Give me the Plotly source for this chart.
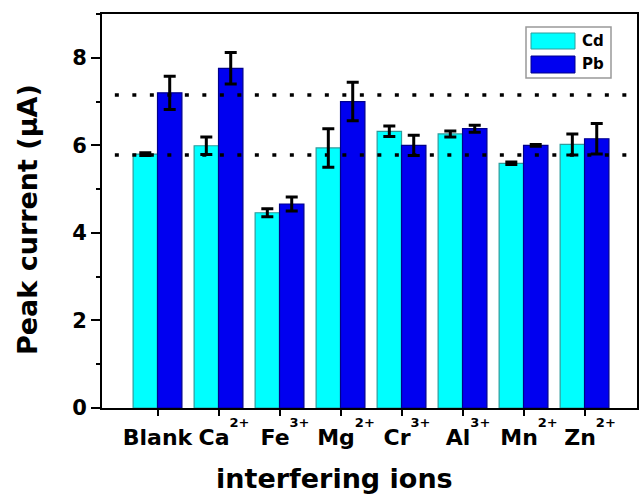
import plotly.graph_objects as go

categories = ["Blank", "Ca2+", "Fe3+", "Mg2+", "Cr3+", "Al3+", "Mn2+", "Zn2+"]
tick_bases = ["Blank", "Ca", "Fe", "Mg", "Cr", "Al", "Mn", "Zn"]
tick_charges = ["", "2+", "3+", "2+", "3+", "3+", "2+", "2+"]
cd_values = [5.80, 5.99, 4.46, 5.94, 6.32, 6.26, 5.59, 6.02]
cd_errors = [0.03, 0.20, 0.09, 0.44, 0.12, 0.07, 0.03, 0.24]
pb_values = [7.20, 7.76, 4.66, 7.00, 6.00, 6.38, 6.00, 6.15]
pb_errors = [0.38, 0.36, 0.16, 0.44, 0.23, 0.08, 0.02, 0.35]
reference_levels = [7.15, 5.78]
series_names = ["Cd", "Pb"]
y_tick_values = [0, 2, 4, 6, 8]
x_title = "interfering ions"
y_title = "Peak current (μA)"

SUP = "<span style='font-size:13px;baseline-shift:18px'>%s</span>"
tick_text = [(("\u2002" + b + SUP % c) if c else b) for b, c in zip(tick_bases, tick_charges)]

FONT = "DejaVu Sans, Arial, sans-serif"
cd_fill, cd_line = "#00FFFF", "#2E9C9C"
pb_fill, pb_line = "#0000F0", "#00008C"

fig = go.Figure()
fig.add_trace(go.Bar(
    x=categories, y=cd_values, name=series_names[0],
    marker=dict(color=cd_fill, line=dict(color=cd_line, width=1.2)),
    error_y=dict(type="data", array=cd_errors, visible=True,
                 color="black", thickness=3, width=6),
    showlegend=False,
))
fig.add_trace(go.Bar(
    x=categories, y=pb_values, name=series_names[1],
    marker=dict(color=pb_fill, line=dict(color=pb_line, width=1.2)),
    error_y=dict(type="data", array=pb_errors, visible=True,
                 color="black", thickness=3, width=6),
    showlegend=False,
))

shapes = []
for lvl in reference_levels:
    shapes.append(dict(type="line", xref="paper", yref="y", x0=0.024, x1=1.0,
                       y0=lvl, y1=lvl, layer="above",
                       line=dict(color="black", width=3.5, dash="4px,13.5px")))

# pixel -> paper helpers
pw = 639 - 102 - 2
ph = 496 - 14 - 88
def px_x(v):
    return (v - 102) / pw
def px_y(v):
    return (496 - 88 - v) / ph

# custom legend box
shapes.append(dict(type="rect", xref="paper", yref="paper",
                   x0=px_x(526), x1=px_x(611), y0=px_y(78), y1=px_y(27),
                   line=dict(color="#999999", width=1.5), fillcolor="white", layer="above"))
shapes.append(dict(type="rect", xref="paper", yref="paper",
                   x0=px_x(531), x1=px_x(575), y0=px_y(49), y1=px_y(33),
                   line=dict(color=cd_line, width=1), fillcolor=cd_fill, layer="above"))
shapes.append(dict(type="rect", xref="paper", yref="paper",
                   x0=px_x(531), x1=px_x(575), y0=px_y(73), y1=px_y(56),
                   line=dict(color=pb_line, width=1), fillcolor=pb_fill, layer="above"))
annotations = [
    dict(xref="paper", yref="paper", x=px_x(580), y=px_y(41), text="<b>%s</b>" % series_names[0],
         showarrow=False, xanchor="left", yanchor="middle",
         font=dict(family=FONT, size=15, color="black")),
    dict(xref="paper", yref="paper", x=px_x(580), y=px_y(64.5), text="<b>%s</b>" % series_names[1],
         showarrow=False, xanchor="left", yanchor="middle",
         font=dict(family=FONT, size=15, color="black")),
    dict(xref="paper", yref="paper", x=px_x(334), y=px_y(478), text="<b>%s</b>" % x_title,
         showarrow=False, xanchor="center", yanchor="middle",
         font=dict(family=FONT, size=27, color="black")),
    dict(xref="paper", yref="paper", x=px_x(27), y=px_y(220), text="<b>%s</b>" % y_title,
         showarrow=False, xanchor="center", yanchor="middle", textangle=-90,
         font=dict(family=FONT, size=27, color="black")),
]

fig.update_layout(
    width=639, height=496,
    margin=dict(l=102, r=2, t=14, b=88),
    paper_bgcolor="white", plot_bgcolor="white",
    barmode="group", bargap=0.2, bargroupgap=0.0,
    font=dict(family=FONT, color="black"),
    shapes=shapes, annotations=annotations,
    xaxis=dict(
        range=[-0.91, 7.86], showgrid=False, zeroline=False, automargin=False,
        tickmode="array", tickvals=categories, ticktext=tick_text,
        showline=True, linecolor="black", linewidth=2, mirror=True,
        ticks="outside", ticklen=6, tickwidth=1.5, tickcolor="black",
        tickangle=0, ticklabelstandoff=3,
        tickfont=dict(family=FONT, size=22, color="black", weight="bold"),
    ),
    yaxis=dict(
        range=[0, 9], showgrid=False, zeroline=False, automargin=False,
        tickvals=y_tick_values,
        showline=True, linecolor="black", linewidth=2, mirror=True,
        ticks="outside", ticklen=9, tickwidth=1.5, tickcolor="black",
        minor=dict(dtick=1, ticks="outside", ticklen=4, tickwidth=1.5, tickcolor="black"),
        tickfont=dict(family=FONT, size=21, color="black", weight="bold"),
    ),
)

fig.write_html("out.html")
